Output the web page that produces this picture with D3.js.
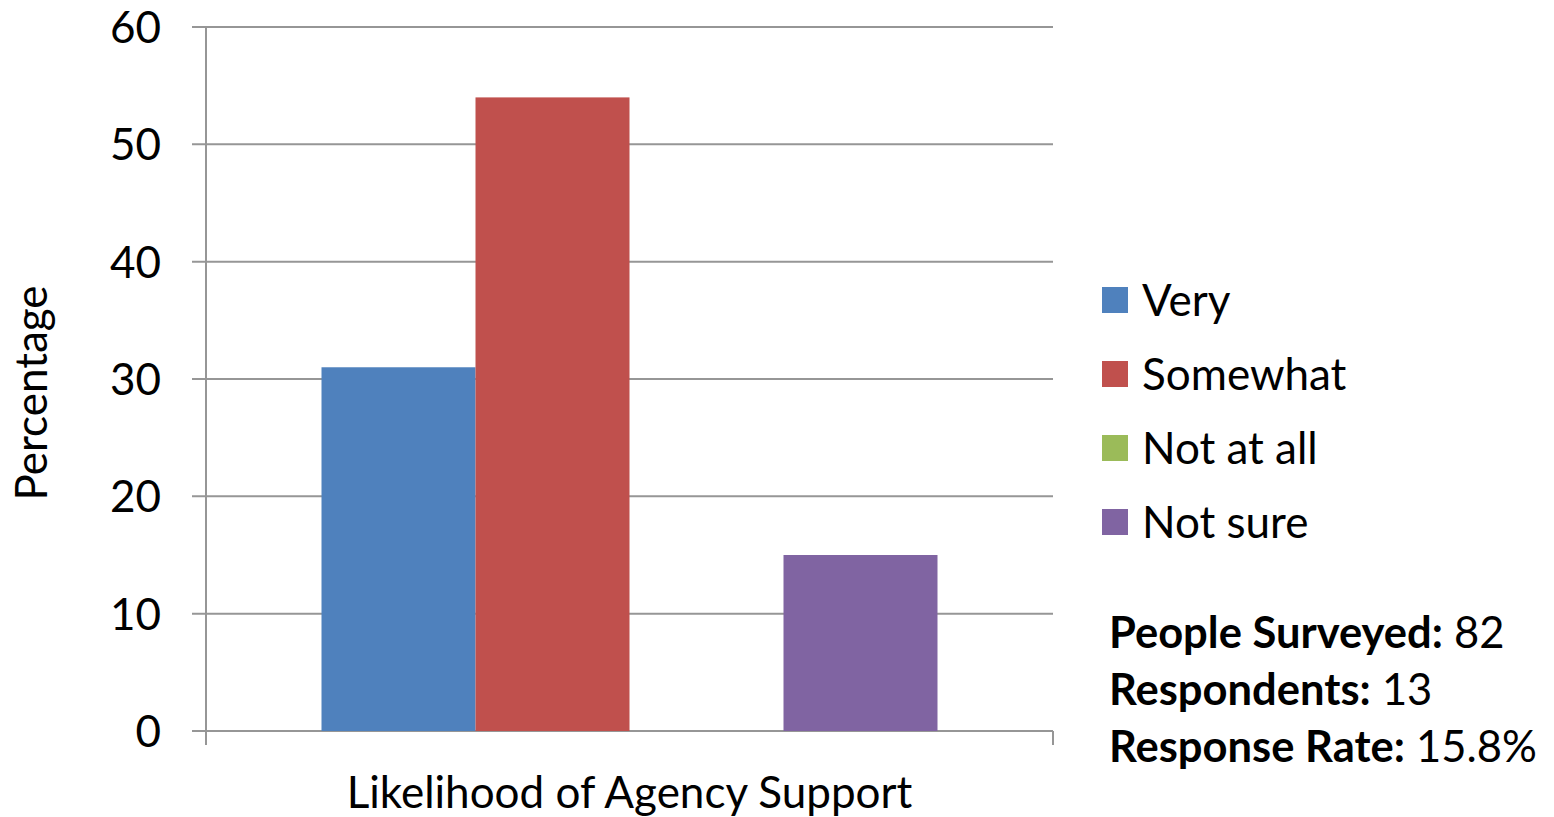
<!DOCTYPE html>
<html>
<head>
<meta charset="utf-8">
<script src="https://cdn.jsdelivr.net/npm/d3@7"></script>
<style>
  body { margin: 0; background: #fff; }
  svg { font-family: Lato, "Open Sans", sans-serif; }
  .grid line { stroke: #969696; stroke-width: 2; }
</style>
</head>
<body>
<div id="chart"></div>
<script>
// data
const category = 'Likelihood of Agency Support';
const seriesNames = ['Very', 'Somewhat', 'Not at all', 'Not sure'];
const seriesValues = [31, 54, 0, 15];
const seriesColors = ['#4F81BD', '#C0504D', '#9BBB59', '#8064A2'];
const yTicks = [0, 10, 20, 30, 40, 50, 60];
const statLabels = ['People Surveyed:', 'Respondents:', 'Response Rate:'];
const statValues = ['82', '13', '15.8%'];

let margin = { top: 27, left: 206, right: 501, bottom: 86 },
  width = 1554 - margin.left - margin.right,
  height = 817 - margin.top - margin.bottom,
  fontSize = 44;

let svg = d3.select('#chart')
  .append('svg')
    .attr('width', 1554)
    .attr('height', 817);

let g = svg.append('g')
    .attr('transform', 'translate(' + margin.left + ',' + margin.top + ')');

let x0 = d3.scaleBand()
  .domain([category])
  .range([0, width])
  .paddingInner(0)
  .paddingOuter(0.1875);

let x1 = d3.scaleBand()
  .domain(seriesNames)
  .range([0, x0.bandwidth()]);

let yScale = d3.scaleLinear()
  .domain([0, 60])
  .range([height, 0]);

// gridlines (with the little outward tick on the left)
g.append('g')
    .attr('class', 'grid')
  .selectAll('line')
  .data(yTicks)
  .join('line')
    .attr('x1', -14)
    .attr('x2', width)
    .attr('y1', d => yScale(d))
    .attr('y2', d => yScale(d));

// y axis line
g.append('line')
    .attr('x1', 0).attr('x2', 0)
    .attr('y1', 0).attr('y2', height + 14)
    .attr('stroke', '#969696').attr('stroke-width', 2);

// right end tick of x axis
g.append('line')
    .attr('x1', width).attr('x2', width)
    .attr('y1', height).attr('y2', height + 14)
    .attr('stroke', '#969696').attr('stroke-width', 2);

// y tick labels
g.append('g')
  .selectAll('text')
  .data(yTicks)
  .join('text')
    .attr('x', -45)
    .attr('y', d => yScale(d))
    .attr('dy', '0.36em')
    .attr('text-anchor', 'end')
    .attr('font-size', fontSize)
    .text(d => d);

// bars
g.append('g')
    .attr('transform', 'translate(' + x0(category) + ',0)')
  .selectAll('rect')
  .data(seriesNames.map((s, i) => ({ name: s, value: seriesValues[i], color: seriesColors[i] })))
  .join('rect')
    .attr('x', d => x1(d.name))
    .attr('width', x1.bandwidth())
    .attr('y', d => yScale(d.value))
    .attr('height', d => height - yScale(d.value))
    .attr('fill', d => d.color);

// x axis label
g.append('text')
    .attr('x', width / 2)
    .attr('y', height + 77)
    .attr('text-anchor', 'middle')
    .attr('font-size', fontSize)
    .text(category);

// y axis label
svg.append('text')
    .attr('transform', 'translate(47,393) rotate(-90)')
    .attr('text-anchor', 'middle')
    .attr('font-size', fontSize)
    .text('Percentage');

// legend
let legend = svg.append('g')
    .attr('transform', 'translate(1102,300)');

let items = legend.selectAll('g')
  .data(seriesNames)
  .join('g')
    .attr('transform', (d, i) => 'translate(0,' + i * 74 + ')');

items.append('rect')
    .attr('x', 0).attr('y', -13)
    .attr('width', 26).attr('height', 26)
    .attr('fill', (d, i) => seriesColors[i]);

items.append('text')
    .attr('x', 40)
    .attr('dy', '0.36em')
    .attr('font-size', fontSize)
    .text(d => d);

// survey stats
let stats = svg.append('g')
    .attr('transform', 'translate(1109,648)');

stats.selectAll('text')
  .data(statLabels)
  .join('text')
    .attr('y', (d, i) => i * 57)
    .attr('font-size', 43.5)
    .each(function (d, i) {
      let t = d3.select(this);
      t.append('tspan').attr('font-weight', 'bold').text(d);
      t.append('tspan').text(' ' + statValues[i]);
    });
</script>
</body>
</html>
